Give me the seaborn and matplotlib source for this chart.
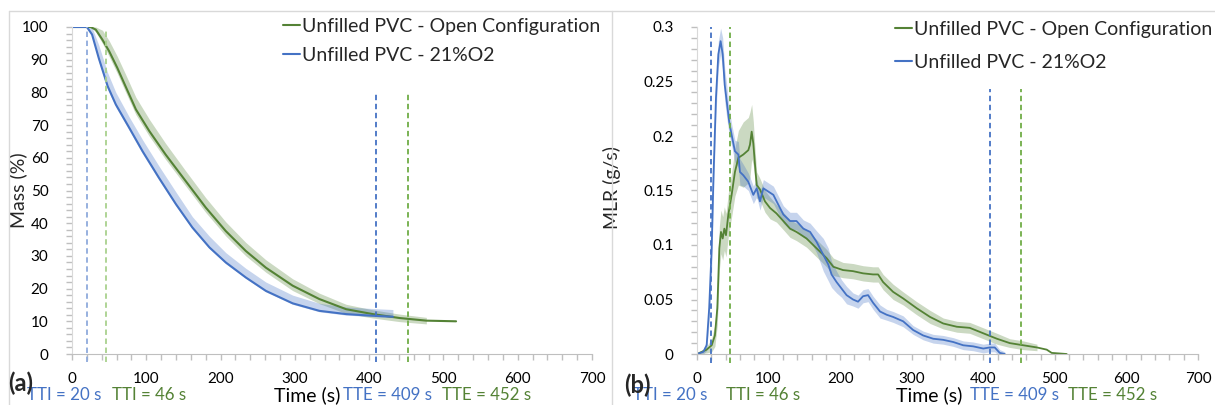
import numpy as np
import pandas as pd
import matplotlib
matplotlib.use('Agg')
import matplotlib.pyplot as plt
import seaborn as sns
from matplotlib.lines import Line2D
from matplotlib.ticker import MultipleLocator, FuncFormatter

nan = np.nan

# ---- mass loss (a) ----
blue_mass_t = [0, 20, 27, 36, 48, 59, 77, 95, 117, 140, 162, 185, 207, 234, 261, 297, 333, 369, 405, 432]
blue_mass = [100, 100, 97.7, 90.5, 81.9, 76.3, 69.2, 62, 53.9, 45.8, 38.7, 32.6, 28, 23.4, 19.3, 15.5, 13.2, 12.2, 11.7, 11.4]
blue_mass_lo = [nan, 100, 97.2, 89.5, 80.9, 75.5, 68.4, 61.2, 53.2, 45.2, 38.2, 32.2, 27.6, 23.1, 19.0, 15.2, 12.9, 11.9, 11.4, 11.1]
blue_mass_hi = [nan, 100, 99.8, 94.5, 86.0, 80.0, 72.5, 65.5, 57.5, 49.5, 42.0, 36.0, 31.0, 26.2, 22.0, 18.0, 15.5, 14.4, 13.9, 13.6]

green_mass_t = [0, 25, 32, 41, 50, 61, 72, 86, 104, 126, 153, 180, 207, 234, 261, 297, 333, 369, 405, 441, 477, 517]
green_mass = [100, 100, 99.2, 96.1, 92.6, 87.5, 81.9, 74.8, 68.2, 61, 52.9, 44.8, 37.6, 31.5, 26.4, 20.9, 16.8, 13.7, 12.2, 11, 10.2, 10.0]
green_mass_lo = [nan, 100, 98.5, 95, 91.0, 85.8, 80.2, 73.2, 66.6, 59.5, 51.4, 43.3, 36.1, 30.0, 25.0, 19.4, 15.4, 12.4, 11.0, 9.9, 9.2, nan]
green_mass_hi = [nan, 100, 100, 99, 95.8, 91, 85.6, 78.5, 71.8, 64.4, 56, 47.8, 40.4, 34.1, 28.8, 23.0, 18.6, 15.2, 13.5, 12.2, 11.2, nan]

# ---- MLR (b) ----
blue_mlr_t = [0, 8.8, 13.5, 17, 20.5, 22.8, 26.5, 29.8, 33, 35.9, 38.7, 41.5, 45, 48.4, 53, 57.8, 60, 64.7, 71.7, 78.7,
              83.4, 88, 92.7, 99.7, 106.7, 113.6, 120.6, 130, 139, 148.6, 158, 167, 176.5, 183.5, 188, 195, 202, 209, 218, 225,
              232, 239, 246, 255.7, 265, 274, 288, 302, 316, 330, 344, 358, 372, 386, 400, 409, 416, 423, 430]
blue_mlr = [0, .002, .008, .042, .097, .158, .235, .275, .287, .275, .247, .232, .213, .201, .186, .183, .167, .164, .158, .146,
            .152, .140, .152, .149, .146, .137, .128, .122, .122, .115, .112, .103, .091, .082, .073, .066, .060, .054, .050, .048,
            .053, .054, .047, .039, .036, .034, .030, .022, .017, .014, .013, .011, .008, .007, .005, .006, .006, .001, 0]
blue_mlr_sd = [0, .002, .005, .012, .02, .02, .015, .012, .012, .015, .015, .015, .012, .01, .01, .012, .012, .01, .008, .008,
               .008, .008, .008, .008, .008, .008, .008, .008, .008, .008, .008, .01, .015, .015, .012, .01, .008, .008, .006, .006,
               .006, .006, .006, .006, .005, .005, .005, .004, .004, .004, .004, .004, .004, .004, .004, .004, .004, .003, .002]

green_mlr_t = [0, 13.5, 20.5, 25, 28.4, 31.2, 33.5, 35.9, 38.2, 40.5, 43.8, 48.4, 53, 57.8, 64.7, 71.7, 74, 76.4, 78.7, 81,
               83.4, 88, 95, 102, 111, 120.6, 130, 139, 153, 167, 181, 190.5, 204, 218, 232, 246, 253, 260, 274, 288,
               307, 325.6, 344, 363, 381, 400, 419, 437, 456, 475, 488.6, 495.6, 516.5]
green_mlr = [0, .004, .008, .017, .042, .097, .112, .106, .115, .109, .128, .146, .167, .180, .183, .187, .192, .204, .193, .174,
             .155, .151, .140, .134, .129, .122, .115, .112, .106, .097, .088, .080, .077, .076, .074, .073, .073, .066, .057, .051,
             .042, .034, .028, .025, .024, .019, .014, .010, .008, .006, .004, .001, 0]
green_mlr_sd = [0, .003, .006, .01, .015, .02, .02, .02, .02, .02, .02, .02, .022, .025, .03, .03, .03, .025, .02, .015,
                .012, .01, .01, .01, .008, .008, .008, .008, .008, .008, .008, .008, .007, .007, .007, .007, .007, .007, .007, .006,
                .006, .006, .005, .005, .005, .005, .005, .004, .004, .003, nan, nan, nan]

tti = [20, 46]
tte = [409, 452]
series = ['Unfilled PVC - Open Configuration', 'Unfilled PVC - 21%O2']

GREEN = '#548235'
BLUE = '#4472C4'
GREEN_DASH = '#70AD47'
BLUE_DASH = '#4472C4'

sns.set_style('white')
plt.rcParams['font.family'] = ['Lato', 'DejaVu Sans']

W, H = 1215, 405
fig = plt.figure(figsize=(W / 100, H / 100), dpi=100)


def fx(x):
    return x / W


def fy(y):
    return 1 - y / H


ax1 = fig.add_axes([fx(72), fy(354), fx(592) - fx(72), fy(27) - fy(354)])
ax2 = fig.add_axes([fx(697), fy(354), fx(1198) - fx(697), fy(27) - fy(354)])

mass_df = pd.concat([
    pd.DataFrame({'t': green_mass_t, 'v': green_mass, 's': series[0]}),
    pd.DataFrame({'t': blue_mass_t, 'v': blue_mass, 's': series[1]}),
])
mlr_df = pd.concat([
    pd.DataFrame({'t': green_mlr_t, 'v': green_mlr, 's': series[0]}),
    pd.DataFrame({'t': blue_mlr_t, 'v': blue_mlr, 's': series[1]}),
])
pal = {series[0]: GREEN, series[1]: BLUE}

# bands
ax1.fill_between(green_mass_t, green_mass_lo, green_mass_hi, color=GREEN, alpha=0.3, lw=0)
ax1.fill_between(blue_mass_t, blue_mass_lo, blue_mass_hi, color=BLUE, alpha=0.3, lw=0)
g = np.array(green_mlr); gs = np.array(green_mlr_sd)
b = np.array(blue_mlr); bs = np.array(blue_mlr_sd)
ax2.fill_between(green_mlr_t, g - gs, g + gs, color=GREEN, alpha=0.3, lw=0)
ax2.fill_between(blue_mlr_t, b - bs, b + bs, color=BLUE, alpha=0.3, lw=0)

sns.lineplot(data=mass_df, x='t', y='v', hue='s', palette=pal, sort=False, estimator=None,
             lw=1.5, ax=ax1, legend=False)
sns.lineplot(data=mlr_df, x='t', y='v', hue='s', palette=pal, sort=False, estimator=None,
             lw=1.3, ax=ax2, legend=False)

# TTI / TTE markers
dash = dict(ls=(0, (3, 2)), lw=1.3, clip_on=False)
ax1.plot([tti[0]] * 2, [-2.5, 100], color='#8FAADC', **dash)
ax1.plot([tti[1]] * 2, [-2.5, 99], color='#A9D18E', **dash)
ax1.plot([tte[0]] * 2, [-2.5, 80], color=BLUE_DASH, **dash)
ax1.plot([tte[1]] * 2, [-2.5, 80], color=GREEN_DASH, **dash)
ax2.plot([tti[0]] * 2, [-0.008, 0.3], color=BLUE_DASH, **dash)
ax2.plot([tti[1]] * 2, [-0.008, 0.3], color=GREEN_DASH, **dash)
ax2.plot([tte[0]] * 2, [-0.008, 0.243], color=BLUE_DASH, **dash)
ax2.plot([tte[1]] * 2, [-0.008, 0.243], color=GREEN_DASH, **dash)

for ax, ymax, ymaj, ymin in [(ax1, 100, 10, 2), (ax2, 0.3, 0.05, 0.01)]:
    ax.set_xlim(0, 700)
    ax.set_ylim(0, ymax)
    ax.xaxis.set_major_locator(MultipleLocator(100))
    ax.xaxis.set_minor_locator(MultipleLocator(20))
    ax.yaxis.set_major_locator(MultipleLocator(ymaj))
    ax.yaxis.set_minor_locator(MultipleLocator(ymin))
    ax.yaxis.set_major_formatter(FuncFormatter(lambda v, p: '{:g}'.format(round(v, 4))))
    for s in ['top', 'right']:
        ax.spines[s].set_visible(False)
    ax.spines['left'].set_color('#d9d9d9')
    ax.spines['bottom'].set_color('#bfbfbf')
    ax.tick_params(which='both', direction='out', color='#bfbfbf', length=4, width=1,
                   left=True, bottom=True, labelsize=11, labelcolor='#000000', pad=9)
    ax.tick_params(axis='y', pad=13)
    ax.set_xlabel('')
    ax.set_ylabel('')
    ax.set_facecolor('white')

ax1.set_ylabel('Mass (%)', fontsize=14)
ax2.set_ylabel('MLR (g/s)', fontsize=14)
ax1.yaxis.set_label_coords(fx(27), fy(190), transform=fig.transFigure)
ax2.yaxis.set_label_coords(fx(621), fy(188), transform=fig.transFigure)

handles = [Line2D([], [], color=GREEN, lw=1.5), Line2D([], [], color=BLUE, lw=1.5)]
leg_kw = dict(frameon=False, fontsize=14, handlelength=0.85, handletextpad=0.15,
              borderpad=0, borderaxespad=0, loc='upper left', bbox_transform=fig.transFigure)
ax1.legend(handles, series, bbox_to_anchor=(fx(283), fy(18)), labelspacing=0.6, **leg_kw)
ax2.legend(handles, series, bbox_to_anchor=(fx(895), fy(21)), labelspacing=0.8, **leg_kw)

# bottom annotations
ty = fy(395)
fs = 12.2
fig.text(fx(27), ty, 'TTI = %d s' % tti[0], color=BLUE, fontsize=fs, va='center')
fig.text(fx(112), ty, 'TTI = %d s' % tti[1], color=GREEN, fontsize=fs, va='center')
fig.text(fx(340), ty, 'Time (s)', color='black', fontsize=14, va='center', ha='right')
fig.text(fx(343), ty, 'TTE = %d s' % tte[0], color=BLUE, fontsize=fs, va='center')
fig.text(fx(442), ty, 'TTE = %d s' % tte[1], color=GREEN, fontsize=fs, va='center')

fig.text(fx(633), ty, 'TTI = %d s' % tti[0], color=BLUE, fontsize=fs, va='center')
fig.text(fx(726), ty, 'TTI = %d s' % tti[1], color=GREEN, fontsize=fs, va='center')
fig.text(fx(962), ty, 'Time (s)', color='black', fontsize=14, va='center', ha='right')
fig.text(fx(970), ty, 'TTE = %d s' % tte[0], color=BLUE, fontsize=fs, va='center')
fig.text(fx(1068), ty, 'TTE = %d s' % tte[1], color=GREEN, fontsize=fs, va='center')

fig.text(fx(8), fy(383), '(a)', fontsize=17, fontweight='bold', va='center')
fig.text(fx(624), fy(385), '(b)', fontsize=17, fontweight='bold', va='center')

# chart area borders
bc = '#d9d9d9'
fig.add_artist(Line2D([fx(9), fx(1215)], [fy(11), fy(11)], color=bc, lw=1))
fig.add_artist(Line2D([fx(9), fx(9)], [fy(11), 0], color=bc, lw=1))
fig.add_artist(Line2D([fx(612), fx(612)], [fy(11), 0], color=bc, lw=1))

fig.savefig('out.png', dpi=100)
plt.close(fig)
